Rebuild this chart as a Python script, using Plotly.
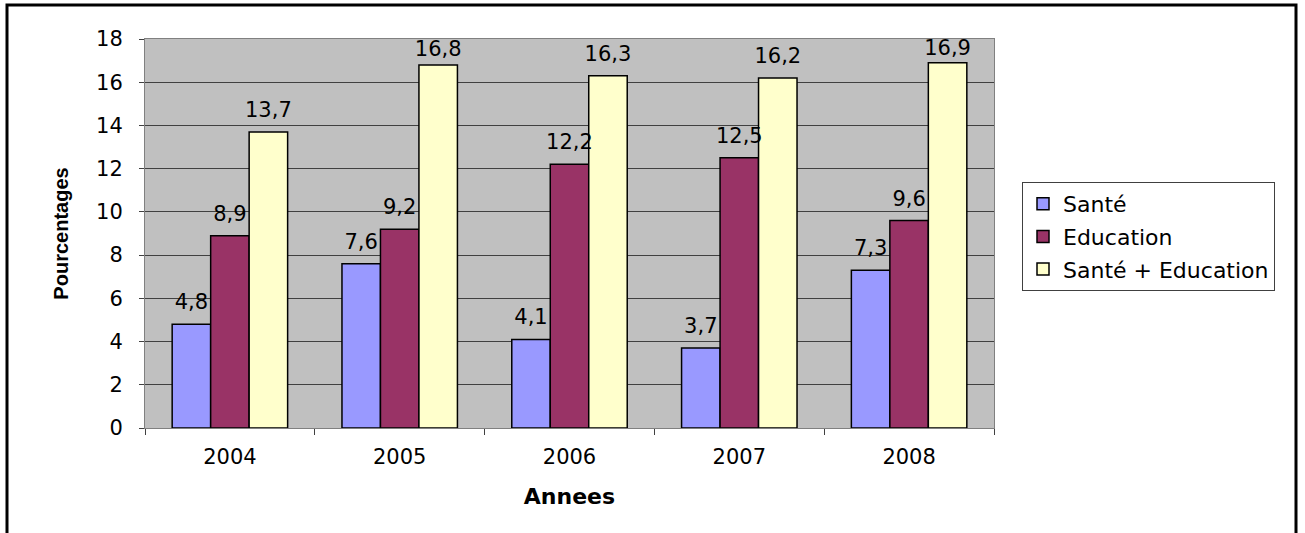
import plotly.graph_objects as go

years = ["2004", "2005", "2006", "2007", "2008"]
sante = [4.8, 7.6, 4.1, 3.7, 7.3]
education = [8.9, 9.2, 12.2, 12.5, 9.6]
sante_education = [13.7, 16.8, 16.3, 16.2, 16.9]

series = [
    ("Santé", sante, "#9999FF"),
    ("Education", education, "#993366"),
    ("Santé + Education", sante_education, "#FFFFCC"),
]

FONT = "DejaVu Sans, Liberation Sans, Arial, sans-serif"
FS = 21

W, H = 1305, 533
L, R, T, B = 145, 311, 39, 105
pw, ph = W - L - R, H - T - B
YMAX = 18


def label_gap(v):
    # Excel-like: keep label inside the plot area, otherwise ~15px above bar
    bar_top_px = ph * (1 - v / YMAX)
    return max(2, min(14, bar_top_px - 21))


fig = go.Figure()
for i, (name, vals, col) in enumerate(series):
    fig.add_trace(go.Bar(
        x=years, y=vals, name=name,
        marker=dict(color=col, line=dict(color="black", width=1.5)),
        offsetgroup=str(i), alignmentgroup="a",
        legendgroup=f"g{i}",
    ))
for i, (name, vals, col) in enumerate(series):
    fig.add_trace(go.Scatter(
        x=years, y=vals, mode="markers+text", showlegend=False,
        marker=dict(size=[label_gap(v) for v in vals], opacity=0),
        text=[f"{v:.1f}".replace(".", ",") for v in vals],
        textposition="top center",
        textfont=dict(family=FONT, size=FS, color="black"),
        offsetgroup=str(i), alignmentgroup="a",
        cliponaxis=False, hoverinfo="skip",
    ))


def px(x):
    return (x - L) / pw


def py(y):
    return (H - B - y) / ph


fig.update_layout(
    width=W, height=H,
    margin=dict(l=L, r=R, t=T, b=B, pad=0),
    paper_bgcolor="white", plot_bgcolor="#C0C0C0",
    separators=", ",
    barmode="group", bargap=0.32, bargroupgap=0,
    scattermode="group", scattergap=0.32,
    font=dict(family=FONT, size=FS, color="black"),
    showlegend=True,
    legend=dict(
        x=px(1022), y=py(182), xanchor="left", yanchor="top",
        bordercolor="#404040", borderwidth=1, bgcolor="white",
        font=dict(family=FONT, size=22, color="black"),
        traceorder="grouped", tracegroupgap=1, itemwidth=30,
    ),
    xaxis=dict(
        type="category", tickson="boundaries", ticks="outside", ticklen=6,
        tickcolor="#404040", showline=True, linecolor="#808080", mirror=True,
        showgrid=False, ticklabelstandoff=10,
        tickfont=dict(family=FONT, size=FS, color="black"),
        title=dict(text="<b>Annees</b>", standoff=20,
                   font=dict(family=FONT, size=22, color="black")),
    ),
    yaxis=dict(
        range=[0, YMAX], dtick=2, ticks="outside", ticklen=5, tickcolor="#404040",
        showline=True, linecolor="#808080", mirror=True,
        showgrid=True, gridcolor="#404040", gridwidth=1,
        zeroline=True, zerolinecolor="#404040", zerolinewidth=1,
        ticklabelstandoff=12,
        tickfont=dict(family=FONT, size=FS, color="black"),
        title=dict(text="<b>Pourcentages</b>", standoff=22,
                   font=dict(family="Liberation Sans, Arial, sans-serif",
                             size=20, color="black")),
    ),
    shapes=[dict(
        type="rect", xref="paper", yref="paper",
        x0=px(7), x1=px(1296), y0=py(545), y1=py(5),
        line=dict(color="black", width=3), fillcolor="rgba(0,0,0,0)", layer="above",
    )],
)

fig.write_html("out.html")
